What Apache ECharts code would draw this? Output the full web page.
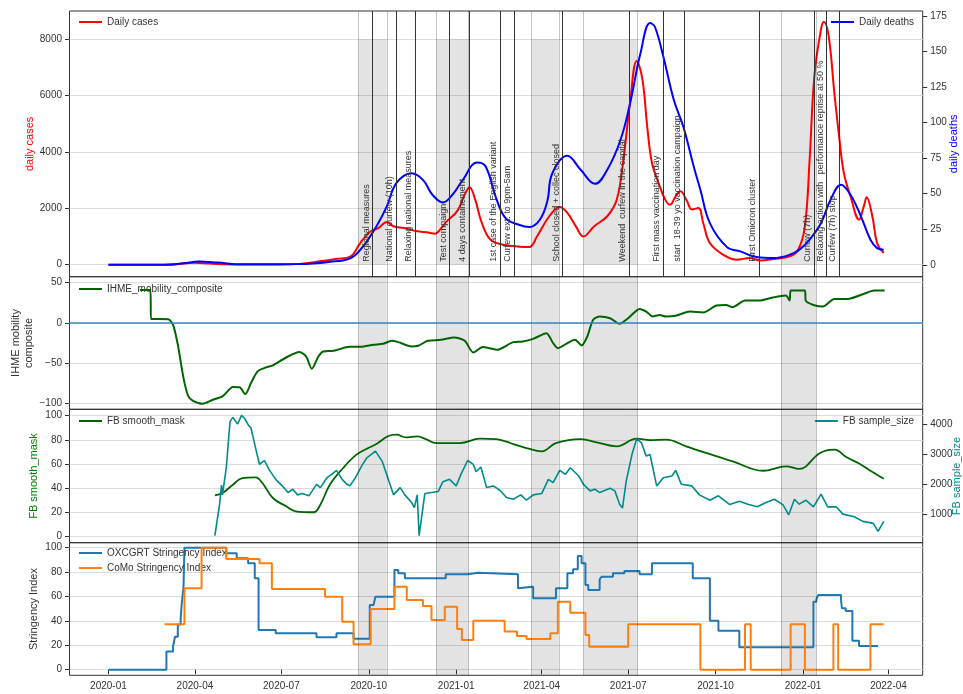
<!DOCTYPE html>
<html><head><meta charset="utf-8">
<script src="https://cdn.jsdelivr.net/npm/echarts@6/dist/echarts.min.js"></script>
<style>html,body{margin:0;padding:0;background:#fff}#c{width:963px;height:694px}</style>
</head><body><div id="c"></div>
<script>
// ---------------- DATA ----------------
const dailyCases = [['2020-01-01',0],['2020-02-14',0],['2020-03-11',20],['2020-04-01',70],['2020-04-17',40],['2020-05-08',10],['2020-06-29',10],['2020-07-20',30],['2020-08-11',120],['2020-08-27',200],['2020-09-12',300],['2020-09-22',770],['2020-10-03',1185],['2020-10-11',1300],['2020-10-20',1517],['2020-10-27',1363],['2020-11-07',1300],['2020-11-21',1185],['2020-12-01',1150],['2020-12-10',1100],['2020-12-15',1245],['2020-12-22',1540],['2021-01-02',1900],['2021-01-10',2490],['2021-01-15',2750],['2021-01-21',2310],['2021-01-28',1480],['2021-02-06',890],['2021-02-19',710],['2021-03-06',650],['2021-03-19',630],['2021-03-27',1000],['2021-04-09',1720],['2021-04-20',2050],['2021-04-28',1840],['2021-05-07',1360],['2021-05-15',1000],['2021-05-26',1360],['2021-06-09',1720],['2021-06-19',2310],['2021-06-26',3730],['2021-07-03',5750],['2021-07-10',7230],['2021-07-16',6580],['2021-07-21',4920],['2021-07-26',3620],['2021-08-02',2900],['2021-08-09',2310],['2021-08-14',2130],['2021-08-20',2430],['2021-08-25',2610],['2021-09-01',2250],['2021-09-06',1960],['2021-09-13',2015],['2021-09-18',1480],['2021-09-25',770],['2021-10-09',355],['2021-10-23',178],['2021-11-06',238],['2021-11-17',153],['2021-12-01',203],['2021-12-18',295],['2021-12-27',533],['2022-01-03',1360],['2022-01-08',3730],['2022-01-13',6700],['2022-01-20',8360],['2022-01-23',8620],['2022-01-28',8120],['2022-02-03',6100],['2022-02-08',4560],['2022-02-13',3260],['2022-02-20',2430],['2022-03-01',1600],['2022-03-06',2070],['2022-03-09',2390],['2022-03-15',1720],['2022-03-20',770],['2022-03-27',415]];

const dailyDeaths = [['2020-01-01',0],['2020-03-01',0],['2020-03-20',1],['2020-04-05',2.2],['2020-04-25',1.5],['2020-05-20',0.3],['2020-07-20',0.5],['2020-08-20',2],['2020-09-12',4.7],['2020-09-25',12.9],['2020-10-09',26.9],['2020-10-20',41],['2020-10-30',57.4],['2020-11-15',64.4],['2020-11-27',59.7],['2020-12-07',49.2],['2020-12-18',43.8],['2020-12-28',49.2],['2021-01-08',59.7],['2021-01-23',71.9],['2021-02-01',69.1],['2021-02-12',46.9],['2021-02-22',32.8],['2021-03-08',28.1],['2021-03-19',26.5],['2021-03-30',31.6],['2021-04-07',45],['2021-04-12',64],['2021-04-28',76.6],['2021-05-12',66.8],['2021-05-27',56.9],['2021-06-09',66.8],['2021-06-23',87.9],['2021-07-03',113.6],['2021-07-14',148.8],['2021-07-24',169.9],['2021-07-29',167.5],['2021-08-07',146.4],['2021-08-18',116],['2021-08-28',97.2],['2021-09-08',69.1],['2021-09-15',52.7],['2021-09-25',29.3],['2021-10-13',12.4],['2021-10-27',9.4],['2021-11-13',5.4],['2021-12-01',4.7],['2021-12-18',7],['2021-12-29',11],['2022-01-08',17.6],['2022-01-20',29.3],['2022-01-30',45.7],['2022-02-10',56.2],['2022-02-20',49.2],['2022-03-03',34],['2022-03-13',17.6],['2022-03-20',11.7],['2022-03-27',10.5]];

const mobility = [['2020-02-03',41],['2020-02-14',41],['2020-02-15',5],['2020-03-04',4.5],['2020-03-09',-2.5],['2020-03-14',-27],['2020-03-20',-68.6],['2020-03-25',-91],['2020-03-30',-96.8],['2020-04-09',-100.5],['2020-04-20',-95.5],['2020-04-30',-91.3],['2020-05-11',-79.8],['2020-05-18',-80.1],['2020-05-24',-88.5],['2020-05-30',-74.8],['2020-06-06',-60.3],['2020-06-15',-55.3],['2020-06-22',-52.9],['2020-07-06',-43],['2020-07-20',-36.3],['2020-07-27',-41.7],['2020-08-02',-57],['2020-08-09',-41.7],['2020-08-14',-35.5],['2020-08-25',-34.7],['2020-09-11',-29.8],['2020-09-22',-29.8],['2020-10-06',-27.3],['2020-10-16',-26],['2020-10-25',-22.3],['2020-11-01',-23.9],['2020-11-15',-29.3],['2020-11-22',-28.5],['2020-12-02',-22.3],['2020-12-16',-21.1],['2020-12-30',-18.1],['2021-01-10',-22.3],['2021-01-19',-36.7],['2021-01-29',-30.1],['2021-02-05',-31.4],['2021-02-13',-33.5],['2021-03-02',-23.9],['2021-03-12',-23.1],['2021-03-23',-19.9],['2021-04-06',-12.8],['2021-04-13',-25.2],['2021-04-18',-31.4],['2021-04-28',-25.2],['2021-05-06',-21.1],['2021-05-13',-28],['2021-05-19',-16.9],['2021-05-25',3.7],['2021-06-01',7.9],['2021-06-12',5.8],['2021-06-22',-1.2],['2021-07-01',5.8],['2021-07-13',17.4],['2021-07-20',14.1],['2021-07-27',7.9],['2021-08-03',9.9],['2021-08-10',7.9],['2021-08-21',9.2],['2021-09-04',14.1],['2021-09-18',12.9],['2021-10-02',21.6],['2021-10-12',22.3],['2021-10-19',19.5],['2021-11-01',27.8],['2021-11-16',27.8],['2021-11-30',31.5],['2021-12-14',34],['2021-12-18',27.8],['2021-12-19',40.2],['2022-01-03',40.2],['2022-01-04',27.3],['2022-01-12',22.3],['2022-01-22',20.3],['2022-02-03',29.8],['2022-02-17',29.8],['2022-03-05',35.6],['2022-03-17',40.2],['2022-03-28',40.2]];

const smoothMask = [['2020-04-22',34.2],['2020-04-30',36.1],['2020-05-11',43],['2020-05-21',48.5],['2020-06-04',49.1],['2020-06-11',44.4],['2020-06-22',32],['2020-07-06',25.1],['2020-07-16',21],['2020-08-04',20.2],['2020-08-11',26.4],['2020-08-21',43],['2020-09-04',56.8],['2020-09-18',67.8],['2020-09-29',72.7],['2020-10-09',76.6],['2020-10-21',83],['2020-10-30',84.3],['2020-11-09',82.1],['2020-11-21',83],['2020-11-30',80.7],['2020-12-11',77.4],['2021-01-05',77.4],['2021-01-26',81],['2021-02-12',80.7],['2021-02-22',78.8],['2021-03-02',76.6],['2021-03-16',73.3],['2021-04-01',70.5],['2021-04-16',77.4],['2021-05-12',80.7],['2021-05-29',78],['2021-06-19',74.7],['2021-07-10',81],['2021-07-24',79.7],['2021-08-10',80.2],['2021-08-31',74.7],['2021-09-21',69.2],['2021-10-19',62.3],['2021-11-20',54.5],['2021-12-14',58.2],['2021-12-28',56],['2022-01-19',69.2],['2022-02-03',71.9],['2022-02-16',65.6],['2022-03-02',60.1],['2022-03-13',54.5],['2022-03-27',47.9]];

const sampleSize = [['2020-04-22',286],['2020-04-27',1330],['2020-04-29',1971],['2020-04-30',1642],['2020-05-04',2545],['2020-05-08',4089],['2020-05-11',4222],['2020-05-16',4000],['2020-05-20',4288],['2020-05-23',4200],['2020-05-27',3977],['2020-05-30',3868],['2020-06-03',3316],['2020-06-08',2654],['2020-06-13',2786],['2020-06-18',2489],['2020-06-25',2158],['2020-07-02',1940],['2020-07-08',1718],['2020-07-13',1828],['2020-07-18',1642],['2020-07-23',1686],['2020-07-30',1610],['2020-08-07',1993],['2020-08-11',1884],['2020-08-18',2214],['2020-08-23',2324],['2020-08-28',2456],['2020-09-03',2158],['2020-09-08',1993],['2020-09-11',1940],['2020-09-17',2214],['2020-09-24',2634],['2020-09-29',2876],['2020-10-08',3097],['2020-10-15',2766],['2020-10-21',2214],['2020-10-27',1642],['2020-11-03',1884],['2020-11-08',1642],['2020-11-15',1387],['2020-11-18',1222],['2020-11-21',1642],['2020-11-23',286],['2020-11-29',1686],['2020-12-13',1752],['2020-12-18',2082],['2020-12-25',2158],['2021-01-01',1940],['2021-01-06',2324],['2021-01-13',2786],['2021-01-19',2654],['2021-01-22',2413],['2021-01-27',2568],['2021-02-02',1884],['2021-02-09',1940],['2021-02-16',1795],['2021-02-23',1553],['2021-03-02',1497],['2021-03-10',1642],['2021-03-16',1464],['2021-03-23',1642],['2021-04-01',1686],['2021-04-08',2158],['2021-04-13',2049],['2021-04-20',2456],['2021-04-26',2324],['2021-05-01',2545],['2021-05-10',2270],['2021-05-15',1993],['2021-05-22',1775],['2021-05-27',1828],['2021-06-01',1718],['2021-06-12',1861],['2021-06-17',1775],['2021-06-22',1332],['2021-06-25',1200],['2021-06-29',2105],['2021-07-05',2985],['2021-07-10',3514],['2021-07-15',3372],['2021-07-20',2932],['2021-07-24',2985],['2021-07-31',1940],['2021-08-07',2214],['2021-08-16',2270],['2021-08-20',2456],['2021-08-26',1993],['2021-09-06',1940],['2021-09-14',1642],['2021-09-25',1464],['2021-10-04',1610],['2021-10-16',1321],['2021-10-26',1431],['2021-11-04',1332],['2021-11-14',1244],['2021-11-23',1387],['2021-12-02',1497],['2021-12-11',1310],['2021-12-17',979],['2021-12-23',1497],['2021-12-28',1332],['2022-01-04',1464],['2022-01-12',1244],['2022-01-20',1664],['2022-01-27',1244],['2022-02-05',1244],['2022-02-12',1001],['2022-02-24',915],['2022-03-05',759],['2022-03-16',693],['2022-03-21',428],['2022-03-27',759]];

const oxcgrt = [['2020-01-01',0],['2020-03-02',15],['2020-03-09',19],['2020-03-11',27],['2020-03-14',37],['2020-03-17',42],['2020-03-18',53],['2020-03-20',68],['2020-03-21',100],['2020-05-04',95.4],['2020-05-15',91.3],['2020-05-27',87.2],['2020-06-03',74.9],['2020-06-07',32.5],['2020-06-25',29.8],['2020-08-07',26.6],['2020-08-28',29.8],['2020-09-15',25.4],['2020-10-02',53],['2020-10-06',54.4],['2020-10-08',59.8],['2020-10-28',81.7],['2020-11-01',79],['2020-11-08',74.9],['2020-12-21',78.2],['2021-01-13',79.5],['2021-01-24',78.2],['2021-03-07',66.7],['2021-03-09',68],['2021-03-23',58.5],['2021-04-16',66.7],['2021-04-28',79],['2021-05-04',82.3],['2021-05-09',93.2],['2021-05-13',87.2],['2021-05-17',69.4],['2021-05-20',65.3],['2021-06-01',74.1],['2021-06-03',76.2],['2021-06-15',79],['2021-06-27',80.9],['2021-07-13',78.2],['2021-07-26',87.2],['2021-09-07',74.9],['2021-09-25',40.2],['2021-10-04',32],['2021-10-26',18.4],['2022-01-12',55.7],['2022-01-15',57.7],['2022-01-17',61.2],['2022-02-10',57.7],['2022-02-11',50.3],['2022-02-15',48.1],['2022-02-22',23.8],['2022-03-01',19.4],['2022-03-21',19.4]];

const como = [['2020-02-29',37.2],['2020-03-21',66.7],['2020-04-08',100],['2020-05-04',90.7],['2020-06-08',87.2],['2020-06-21',66.1],['2020-08-16',59.8],['2020-09-03',39.3],['2020-09-15',20.8],['2020-10-03',49.8],['2020-10-28',68],['2020-11-10',57.1],['2020-11-27',52.2],['2020-12-06',40.7],['2020-12-20',51.6],['2021-01-02',33.4],['2021-01-07',24.3],['2021-01-19',40.2],['2021-02-21',31.4],['2021-03-06',27.6],['2021-03-16',25.2],['2021-04-10',29.8],['2021-04-18',55.7],['2021-05-01',46.7],['2021-05-17',28.4],['2021-05-21',18.9],['2021-07-01',37.2],['2021-09-15',0],['2021-11-01',37.2],['2021-11-07',0],['2021-12-19',37.2],['2022-01-03',0],['2022-02-02',37.2],['2022-02-07',0],['2022-03-13',37.2],['2022-03-27',37.2]];

const eventDates = ['2020-10-05','2020-10-30','2020-11-19','2020-12-25','2021-01-15','2021-02-16','2021-03-03','2021-04-23','2021-07-02','2021-08-07','2021-08-29','2021-11-16','2022-01-13','2022-01-26','2022-02-08'];
const eventLabels = ['Regional measures','National curfew (10h)','Relaxing national measures','Test compaign','4 days containement','1st case of the English variant','Curfew ext. to 9pm-5am','School closed + collec closed','Weekend  curfew in the capital','First mass vaccination day','start  18-39 yo vaccination campaign','First Omicron cluster','Curfew (7h)','Relaxing action with   performance reprise at 50 %','Curfew (7h) stop'];

const spanStarts = ['2020-09-20','2020-12-11','2021-03-21','2021-05-15','2021-12-09'];
const spanEnds   = ['2020-10-20','2021-01-14','2021-04-19','2021-07-11','2022-01-15'];

const xTickLabels = ['2020-01','2020-04','2020-07','2020-10','2021-01','2021-04','2021-07','2021-10','2022-01','2022-04'];
const casesTicks = [0,2000,4000,6000,8000];
const deathsTicks = [0,25,50,75,100,125,150,175];
const mobilityTicks = [-100,-50,0,50];
const maskTicks = [0,20,40,60,80,100];
const sampleTicks = [1000,2000,3000,4000];
const stringencyTicks = [0,20,40,60,80,100];

// ---------------- HELPERS ----------------
const t = s => { const p = s.split('-').map(Number); return Date.UTC(p[0], p[1]-1, p[2] || 1); };
const pts = arr => arr.map(([d,v]) => [t(d), v]);
const FONT = '"Liberation Sans", Arial, sans-serif';
const TXT = '#333';
const fmtY = v => String(v).replace('-', '\u2212');
const fmtX = v => { const d = new Date(v); return d.getUTCFullYear() + '-' + String(d.getUTCMonth()+1).padStart(2,'0'); };
const xTicks = xTickLabels.map(t);

const gridBase = {left:69.5, right:40.3, show:true, borderColor:'#333', borderWidth:1, backgroundColor:'transparent', containLabel:false, outerBoundsMode:'none'};
const grids = [
  Object.assign({top:11, height:265.7}, gridBase),
  Object.assign({top:276.7, height:132.6}, gridBase),
  Object.assign({top:409.3, height:133.4}, gridBase),
  Object.assign({top:542.7, height:132.6}, gridBase)
];

function xAx(i, show) {
  return {type:'value', gridIndex:i, min:t('2019-11-21'), max:t('2022-05-07'),
    axisLine:{show:false}, splitLine:{show:false},
    axisTick:{show:show, customValues:xTicks, length:4.5, lineStyle:{color:TXT}},
    axisLabel:{show:show, customValues:xTicks, formatter:fmtX, color:TXT, fontSize:10, fontFamily:FONT, margin:6}};
}
function yAx(grid, pos, min, max, ticks, name, nameColor, nameGap, split) {
  return {type:'value', gridIndex:grid, position:pos, min:min, max:max,
    axisLine:{show:false},
    axisTick:{show:true, length:4.5, customValues:ticks, lineStyle:{color:TXT}},
    axisLabel:{customValues:ticks, color:TXT, fontSize:10, fontFamily:FONT, margin:7.5, formatter:fmtY},
    splitLine:{show:split, lineStyle:{color:'#dcdcdc', width:1}},
    name:name, nameLocation:'middle', nameRotate:90, nameGap:nameGap, nameMoveOverlap:false,
    nameTextStyle:{color:nameColor, fontSize:11, fontFamily:FONT, lineHeight:13}};
}

const SPAN_FILL = 'rgba(0,0,0,0.11)';
const EDGE = {color:'rgba(0,0,0,0.22)', width:1, type:'solid'};
const edgeLines = spanStarts.concat(spanEnds).map(d => ({xAxis:t(d), lineStyle:EDGE}));
const fullSpans = spanStarts.map((d,i) => [{xAxis:t(d)}, {xAxis:t(spanEnds[i])}]);
const markAreaFull = {silent:true, animation:false, itemStyle:{color:SPAN_FILL}, emphasis:{disabled:true}, data:fullSpans};
const markEdges = extra => ({silent:true, animation:false, symbol:['none','none'], label:{show:false}, emphasis:{disabled:true}, lineStyle:EDGE, data:edgeLines.concat(extra || [])});

function line(name, data, xi, yi, color, width, extra) {
  return Object.assign({name:name, type:'line', xAxisIndex:xi, yAxisIndex:yi, data:pts(data),
    symbol:'none', showSymbol:false, animation:false, lineStyle:{color:color, width:width}, itemStyle:{color:color}}, extra || {});
}

const legendCommon = {padding:0, icon:'rect', itemWidth:23, itemHeight:2, selectedMode:false,
  textStyle:{color:TXT, fontSize:10, fontFamily:FONT}};

const option = {
  animation:false,
  grid: grids,
  xAxis: [xAx(0,false), xAx(1,false), xAx(2,false), xAx(3,true)],
  yAxis: [
    yAx(0,'left',-425,9003,casesTicks,'daily cases','#ff0000',33,true),
    yAx(0,'right',-8.4,178.4,deathsTicks,'daily deaths','#0000ff',25,false),
    yAx(1,'left',-107.4,57.4,mobilityTicks,'IHME mobility\ncomposite',TXT,34,true),
    yAx(2,'left',-4.96,105.3,maskTicks,'FB smooth_mask','#008000',29.5,true),
    yAx(2,'right',50,4490,sampleTicks,'FB sample_size','#008b8b',28,false),
    yAx(3,'left',-4.6,104.1,stringencyTicks,'Stringency Index',TXT,29,true)
  ],
  legend: [
    Object.assign({data:['Daily cases'], left:79, top:17}, legendCommon),
    Object.assign({data:['Daily deaths'], right:49, top:17}, legendCommon),
    Object.assign({data:['IHME_mobility_composite'], left:79, top:284}, legendCommon),
    Object.assign({data:['FB smooth_mask'], left:79, top:416}, legendCommon),
    Object.assign({data:['FB sample_size'], right:49, top:416}, legendCommon),
    Object.assign({data:['OXCGRT Stringency Index','CoMo Stringency Index'], orient:'vertical', itemGap:5, left:79, top:548}, legendCommon)
  ],
  series: [
    line('Daily cases', dailyCases, 0, 0, '#ff0000', 2, {smooth:0.4, z:3,
      markLine:{silent:true, animation:false, symbol:['none','none'], emphasis:{disabled:true},
        lineStyle:{color:'#333', width:1, type:'solid'},
        label:{show:true, position:'insideStartTop', distance:[15,2], color:'#333', fontSize:9, fontFamily:FONT, formatter:p => p.name},
        data:eventDates.map((d,i) => ({xAxis:t(d), name:eventLabels[i]}))},
      markArea:{silent:true, animation:false, itemStyle:{color:SPAN_FILL}, emphasis:{disabled:true},
        data:spanStarts.map((d,i) => [{xAxis:t(d), yAxis:0}, {xAxis:t(spanEnds[i]), yAxis:8000}])}}),
    line('Daily deaths', dailyDeaths, 0, 1, '#0000ff', 2, {smooth:0.4, z:4, markLine:markEdges()}),
    line('IHME_mobility_composite', mobility, 1, 2, '#006400', 2, {smooth:0.25, z:4,
      markArea:markAreaFull, markLine:markEdges([{yAxis:0, lineStyle:{color:'#3a87c0', width:1.5, type:'solid'}}])}),
    line('FB smooth_mask', smoothMask, 2, 3, '#006400', 1.8, {smooth:0.4, z:3, markArea:markAreaFull, markLine:markEdges()}),
    line('FB sample_size', sampleSize, 2, 4, '#008b8b', 1.6, {z:4}),
    line('OXCGRT Stringency Index', oxcgrt, 3, 5, '#1f77b4', 2, {step:'end', z:3, markArea:markAreaFull, markLine:markEdges()}),
    line('CoMo Stringency Index', como, 3, 5, '#ff7f0e', 2, {step:'end', z:4})
  ]
};
const chart = echarts.init(document.getElementById('c'), null, {renderer:'canvas'});
chart.setOption(option);
</script>
</body></html>
